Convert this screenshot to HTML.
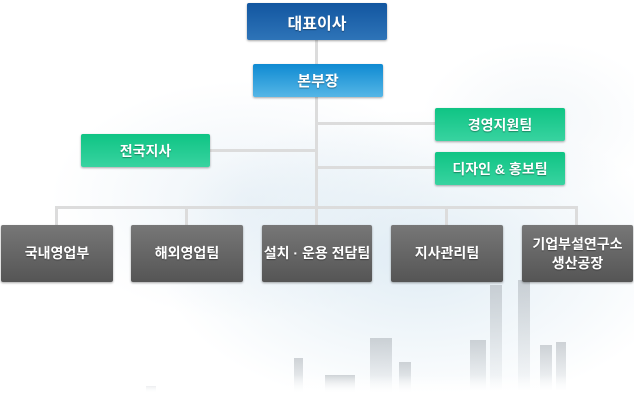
<!DOCTYPE html>
<html><head><meta charset="utf-8"><style>
html,body{margin:0;padding:0}
body{width:634px;height:420px;position:relative;overflow:hidden;background:#fff;font-family:"Liberation Sans","Noto Sans CJK KR",sans-serif}
.bg{position:absolute;left:0;top:0;width:634px;height:420px;background:
radial-gradient(ellipse 260px 150px at 420px 260px,rgba(212,229,240,.7),rgba(255,255,255,0)),
radial-gradient(ellipse 200px 120px at 250px 200px,rgba(222,234,243,.55),rgba(255,255,255,0)),
radial-gradient(ellipse 120px 80px at 540px 120px,rgba(230,238,244,.45),rgba(255,255,255,0));}
.ln{position:absolute;background:#dcdcdc}
.b{position:absolute;color:#fff;font-weight:bold;display:flex;align-items:center;justify-content:center;text-align:center;box-shadow:0 1px 2px rgba(0,0,0,.35);border-radius:2px;text-shadow:0 1px 1px rgba(0,0,0,.35)}
.top{background:linear-gradient(#1256a0,#2e74b8);font-size:16px}
.mid{background:linear-gradient(#0f8ad2,#55b6e6);font-size:15px}
.g{background:linear-gradient(#0fc484,#38d3a0);font-size:14px}
.d{background:linear-gradient(#777,#555);font-size:14px;line-height:19px}
.bd{position:absolute;background:linear-gradient(rgba(170,176,182,.55),rgba(235,240,244,.3));}
.fog{position:absolute;left:0;top:375px;width:634px;height:45px;background:linear-gradient(rgba(255,255,255,0),#fff 40%)}
</style></head><body>
<div class="bg"></div>
<div class="bd" style="left:490px;top:285px;width:12px;height:105px"></div>
<div class="bd" style="left:518px;top:280px;width:12px;height:110px"></div>
<div class="bd" style="left:470px;top:340px;width:16px;height:50px"></div>
<div class="bd" style="left:540px;top:345px;width:12px;height:45px"></div>
<div class="bd" style="left:556px;top:342px;width:10px;height:48px"></div>
<div class="bd" style="left:370px;top:338px;width:22px;height:54px"></div>
<div class="bd" style="left:399px;top:362px;width:12px;height:30px"></div>
<div class="bd" style="left:294px;top:358px;width:9px;height:34px"></div>
<div class="bd" style="left:325px;top:375px;width:30px;height:17px"></div>
<div class="bd" style="left:146px;top:386px;width:10px;height:6px"></div>
<div class="fog"></div>

<div class="ln" style="left:315px;top:40px;width:3px;height:168px"></div>
<div class="ln" style="left:316px;top:122px;width:120px;height:3px"></div>
<div class="ln" style="left:210px;top:149px;width:106px;height:3px"></div>
<div class="ln" style="left:316px;top:166px;width:120px;height:3px"></div>
<div class="ln" style="left:55px;top:206px;width:522px;height:3px"></div>
<div class="ln" style="left:55px;top:206px;width:3px;height:20px"></div>
<div class="ln" style="left:185px;top:206px;width:3px;height:20px"></div>
<div class="ln" style="left:315px;top:206px;width:3px;height:20px"></div>
<div class="ln" style="left:445px;top:206px;width:3px;height:20px"></div>
<div class="ln" style="left:575px;top:206px;width:3px;height:20px"></div>

<div class="b top" style="left:247px;top:3px;width:140px;height:37px">대표이사</div>
<div class="b mid" style="left:253px;top:64px;width:130px;height:33px">본부장</div>
<div class="b g" style="left:435px;top:108px;width:130px;height:33px">경영지원팀</div>
<div class="b g" style="left:435px;top:152px;width:130px;height:33px">디자인 &amp; 홍보팀</div>
<div class="b g" style="left:81px;top:134px;width:129px;height:33px">전국지사</div>

<div class="b d" style="left:1px;top:225px;width:112px;height:57px">국내영업부</div>
<div class="b d" style="left:131px;top:225px;width:112px;height:57px">해외영업팀</div>
<div class="b d" style="left:262px;top:225px;width:110px;height:57px">설치 · 운용 전담팀</div>
<div class="b d" style="left:391px;top:225px;width:112px;height:57px">지사관리팀</div>
<div class="b d" style="left:522px;top:225px;width:111px;height:57px">기업부설연구소<br>생산공장</div>
</body></html>
